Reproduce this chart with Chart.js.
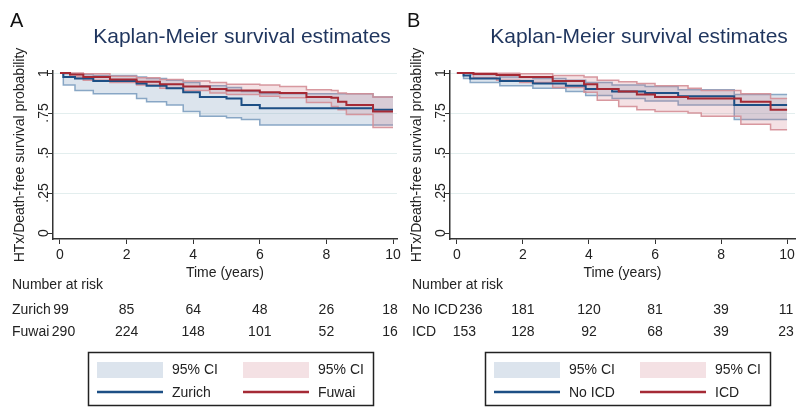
<!DOCTYPE html>
<html>
<head>
<meta charset="utf-8">
<script src="https://cdn.jsdelivr.net/npm/chart.js@4.4.1/dist/chart.umd.min.js"></script>
<style>
  body { margin: 0; background: #fff; }
  #wrap { position: relative; width: 797px; height: 409px; overflow: hidden; background: #fff; }
  canvas { position: absolute; top: 0; }
</style>
</head>
<body>
<div id="wrap">
  <canvas id="panelA" width="406" height="409" style="left:0"></canvas>
  <canvas id="panelB" width="400" height="409" style="left:397px"></canvas>
</div>
<script>
// axis ticks
const years = [0, 2, 4, 6, 8, 10];
const yTicks = [0, 0.25, 0.5, 0.75, 1];
const yTickLabels = ['0', '.25', '.5', '.75', '1'];

// Panel A: Zurich vs Fuwai
const zurichTime = [0, 0.1, 0.45, 1.0, 2.3, 2.6, 3.2, 3.7, 4.2, 5.0, 5.45, 6.0, 9.4, 10];
const zurichSurv = [1, 0.975, 0.965, 0.95, 0.935, 0.92, 0.905, 0.88, 0.85, 0.84, 0.80, 0.78, 0.77, 0.77];
const zurichLo   = [1, 0.925, 0.89, 0.87, 0.84, 0.82, 0.80, 0.76, 0.73, 0.72, 0.71, 0.675, 0.675, 0.675];
const zurichHi   = [1, 0.995, 0.99, 0.985, 0.975, 0.965, 0.955, 0.94, 0.92, 0.91, 0.885, 0.87, 0.85, 0.85];

const fuwaiTime = [0, 0.3, 0.7, 1.5, 2.3, 3.0, 3.7, 4.5, 5.0, 6.0, 6.6, 7.4, 8.15, 8.35, 8.6, 9.4, 10];
const fuwaiSurv = [1, 0.99, 0.975, 0.96, 0.945, 0.93, 0.915, 0.9, 0.89, 0.88, 0.875, 0.85, 0.845, 0.82, 0.80, 0.76, 0.76];
const fuwaiHi   = [1, 1.0, 0.995, 0.98, 0.97, 0.96, 0.95, 0.94, 0.93, 0.925, 0.915, 0.895, 0.89, 0.875, 0.87, 0.85, 0.85];
const fuwaiLo   = [1, 0.975, 0.955, 0.94, 0.925, 0.905, 0.89, 0.875, 0.865, 0.855, 0.845, 0.815, 0.79, 0.77, 0.74, 0.66, 0.66];

// Panel B: No ICD vs ICD
const noIcdTime = [0, 0.2, 0.4, 1.3, 2.3, 3.3, 3.9, 4.7, 5.7, 6.7, 8.4, 10];
const noIcdSurv = [1, 0.985, 0.965, 0.95, 0.935, 0.92, 0.90, 0.885, 0.875, 0.855, 0.80, 0.80];
const noIcdHi   = [1, 1.0, 0.99, 0.975, 0.965, 0.955, 0.94, 0.925, 0.915, 0.895, 0.865, 0.865];
const noIcdLo   = [1, 0.965, 0.94, 0.92, 0.905, 0.885, 0.86, 0.84, 0.825, 0.80, 0.71, 0.71];

const icdTime = [0, 0.5, 1.2, 1.9, 2.9, 3.85, 4.25, 4.9, 5.45, 6.0, 7.0, 7.4, 8.6, 9.5, 10];
const icdSurv = [1, 0.993, 0.987, 0.975, 0.95, 0.93, 0.90, 0.885, 0.865, 0.85, 0.84, 0.84, 0.82, 0.77, 0.77];
const icdHi   = [1, 1.0, 0.998, 0.995, 0.985, 0.975, 0.955, 0.945, 0.935, 0.92, 0.905, 0.89, 0.87, 0.84, 0.84];
const icdLo   = [1, 0.97, 0.955, 0.94, 0.91, 0.88, 0.83, 0.79, 0.77, 0.76, 0.75, 0.73, 0.68, 0.645, 0.645];

// number at risk at years 0,2,...,10
const zurichRisk = [99, 85, 64, 48, 26, 18];
const fuwaiRisk = [290, 224, 148, 101, 52, 16];
const noIcdRisk = [236, 181, 120, 81, 39, 11];
const icdRisk = [153, 128, 92, 68, 39, 23];

const FONT = '"Liberation Sans", Arial, Helvetica, sans-serif';
const TXT = '#222';
const blue = { line: '#1d4f85', edge: 'rgba(125,158,192,0.9)', fill: 'rgba(140,165,195,0.3)' };
const red = { line: '#a52a35', edge: 'rgba(212,142,150,0.9)', fill: 'rgba(205,120,130,0.22)' };

function pts(time, vals) {
  return time.map((t, i) => ({ x: t, y: vals[i] }));
}

function makePanel(id, opt) {
  const datasets = [];
  opt.series.forEach((s, k) => {
    datasets.push({ data: pts(s.time, s.hi), borderColor: s.col.edge, borderWidth: 1.5, fill: false, order: 4 - k });
    datasets.push({ data: pts(s.time, s.lo), borderColor: s.col.edge, borderWidth: 1.5, backgroundColor: s.col.fill, fill: '-1', order: 4 - k });
  });
  opt.series.forEach((s, k) => {
    datasets.push({ data: pts(s.time, s.surv), borderColor: s.col.line, borderWidth: 2, fill: false, order: 1 - k });
  });

  const decor = {
    id: 'decor',
    afterDraw(chart) {
      const c = chart.ctx;
      const xs = chart.scales.x;
      c.save();
      c.fillStyle = '#111';
      c.font = '20px ' + FONT;
      c.textAlign = 'left';
      c.textBaseline = 'alphabetic';
      c.fillText(opt.letter, 10, 27);

      c.fillStyle = '#1f355e';
      c.font = '21px ' + FONT;
      c.textAlign = 'center';
      c.textBaseline = 'middle';
      c.fillText('Kaplan-Meier survival estimates', 242, 37);

      // number at risk table
      c.font = '14px ' + FONT;
      c.fillStyle = TXT;
      c.textAlign = 'left';
      c.fillText('Number at risk', opt.tableLeft, 285);
      opt.series.forEach((s, k) => {
        const y = 310 + k * 22;
        c.textAlign = 'left';
        c.fillText(s.name, opt.tableLeft, y);
        c.textAlign = 'center';
        s.risk.forEach((n, i) => {
          let px = xs.getPixelForValue(years[i]);
          if (i === 0) px += opt.firstShift[k];
          if (i === years.length - 1) px += opt.lastShift;
          c.fillText(String(n), px, y);
        });
      });

      // legend box
      const bx = 88, by = 352, bw = 285, bh = 53;
      c.strokeStyle = '#222';
      c.lineWidth = 1.5;
      c.strokeRect(bx + 0.5, by + 0.5, bw, bh);
      opt.series.forEach((s, k) => {
        const x0 = 97 + k * 146;
        c.fillStyle = '#fff';
        c.fillRect(x0, 362, 66, 16);
        c.fillStyle = s.col.fill;
        c.fillRect(x0, 362, 66, 16);
        c.strokeStyle = s.col.line;
        c.lineWidth = 2.5;
        c.beginPath();
        c.moveTo(x0, 392);
        c.lineTo(x0 + 66, 392);
        c.stroke();
        c.fillStyle = TXT;
        c.textAlign = 'left';
        c.fillText('95% CI', x0 + 75, 370);
        c.fillText(s.name, x0 + 75, 393);
      });
      c.restore();
    }
  };

  return new Chart(document.getElementById(id), {
    type: 'line',
    data: { datasets: datasets },
    options: {
      responsive: false,
      animation: false,
      layout: { padding: { left: 0, right: opt.padRight, top: 71, bottom: 127 } },
      elements: {
        point: { radius: 0, hoverRadius: 0 },
        line: { tension: 0, stepped: 'before' }
      },
      plugins: { legend: { display: false }, tooltip: { enabled: false } },
      scales: {
        x: {
          type: 'linear',
          min: -0.21,
          max: opt.xMax,
          afterBuildTicks: s => { s.ticks = years.map(v => ({ value: v })); },
          afterFit: s => { s.height = 43; s.paddingLeft = 0; s.paddingRight = 0; },
          ticks: { autoSkip: false, maxRotation: 0, padding: 3, color: TXT, font: { size: 14, family: FONT }, callback: v => String(v) },
          grid: { drawOnChartArea: false, tickColor: '#333', tickLength: 5 },
          border: { color: '#333', width: 1.5 },
          title: { display: true, text: 'Time (years)', color: TXT, font: { size: 14, family: FONT }, padding: { top: 0, bottom: 0 } }
        },
        y: {
          type: 'linear',
          min: -0.0375,
          max: 1.0125,
          afterBuildTicks: s => { s.ticks = yTicks.map(v => ({ value: v })); },
          afterFit: s => { s.width = 53; s.paddingTop = 0; s.paddingBottom = 0; },
          ticks: {
            minRotation: 90, maxRotation: 90, crossAlign: 'center', padding: -6,
            color: TXT, font: { size: 14, family: FONT },
            callback: v => yTickLabels[yTicks.indexOf(v)]
          },
          grid: {
            color: ctx => (ctx.tick && ctx.tick.value > 0 ? '#e3eeee' : 'rgba(0,0,0,0)'),
            tickColor: '#333', tickLength: 5
          },
          border: { color: '#333', width: 1.5 },
          title: { display: true, text: 'HTx/Death-free survival probability', color: TXT, font: { size: 14, family: FONT }, padding: { top: 12, bottom: 0 } }
        }
      }
    },
    plugins: [decor]
  });
}

makePanel('panelA', {
  letter: 'A', xMax: 10.12, padRight: 9, tableLeft: 12, firstShift: [1, 3.5], lastShift: -3,
  series: [
    { name: 'Zurich', time: zurichTime, surv: zurichSurv, lo: zurichLo, hi: zurichHi, risk: zurichRisk, col: blue },
    { name: 'Fuwai', time: fuwaiTime, surv: fuwaiSurv, lo: fuwaiLo, hi: fuwaiHi, risk: fuwaiRisk, col: red }
  ]
});

makePanel('panelB', {
  letter: 'B', xMax: 10.24, padRight: 2, tableLeft: 15, firstShift: [14, 7.5], lastShift: -1,
  series: [
    { name: 'No ICD', time: noIcdTime, surv: noIcdSurv, lo: noIcdLo, hi: noIcdHi, risk: noIcdRisk, col: blue },
    { name: 'ICD', time: icdTime, surv: icdSurv, lo: icdLo, hi: icdHi, risk: icdRisk, col: red }
  ]
});
</script>
</body>
</html>
